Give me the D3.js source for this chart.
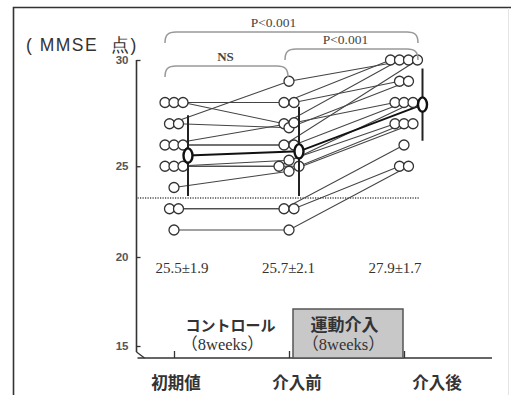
<!DOCTYPE html>
<html>
<head>
<meta charset="utf-8">
<script src="https://cdn.jsdelivr.net/npm/d3@7"></script>
<style>
  html, body { margin: 0; padding: 0; background: #fff; }
  svg { display: block; }
</style>
</head>
<body>
<svg id="chart" width="511" height="395"></svg>
<script>
// Time points
const categories = ["初期値", "介入前", "介入後"];

// MMSE score of each subject at each time point (same subject order in every array)
const initialScores = [28, 28, 28, 27, 27, 26, 26, 26, 25, 25, 25, 24, 23, 23, 22];
const preScores     = [28, 28, 27, 29, 27, 27, 26, 26, 25, 25, 25, 25, 23, 23, 22];
const postScores    = [30, 29, 30, 30, 29, 28, 30, 28, 28, 27, 27, 27, 26, 25, 25];

// Group mean and SD
const means = [25.5, 25.7, 27.9];
const sds   = [1.9, 2.1, 1.7];

// Axis ticks and cut-off score
const yTicks = [15, 20, 25, 30];
const cutoff = 23.5;

// Pairwise comparisons shown as brackets (outermost first)
const compFrom   = [0, 1, 0];
const compTo     = [2, 2, 1];
const compLabels = ["P<0.001", "P<0.001", "NS"];

// Period captions
const periodTitles = ["コントロール", "運動介入"];
const periodSub    = ["（8weeks）", "（8weeks）"];

const svg = d3.select("#chart");
const W = 511, H = 395;

svg.append("rect").attr("width", W).attr("height", H).attr("fill", "#fff");

// outer frame
svg.append("path")
  .attr("d", `M13.5,${H} L13.5,7.5 L${W},7.5`)
  .attr("fill", "none").attr("stroke", "#333").attr("stroke-width", 1.6);
svg.append("line")
  .attr("x1", 508.5).attr("x2", 508.5).attr("y1", 8).attr("y2", H)
  .attr("stroke", "#e4e4e4").attr("stroke-width", 1);

// scales: the value axis is broken below 21.5 (compressed to the 15 baseline)
const x = d3.scalePoint().domain(categories).range([174, 404]);
const y = d3.scaleLinear().domain([15, 20, 21.5, 30]).range([346, 257, 240.6, 60]);
const axisX = 136.5;
const baseY = 358;

const serif = "'Liberation Serif', 'Times New Roman', 'Noto Sans CJK JP', serif";
const sans = "'Liberation Sans', Arial, sans-serif";
const jp = "'Noto Sans CJK JP', 'Noto Sans', sans-serif";

// y axis
const yAxis = svg.append("g")
  .attr("transform", `translate(${axisX},0)`)
  .call(d3.axisLeft(y).tickValues(yTicks).tickSize(-4).tickSizeOuter(0).tickPadding(8));
yAxis.select(".domain").remove();
yAxis.selectAll(".tick line").attr("stroke", "#333").attr("stroke-width", 1.3);
yAxis.selectAll(".tick text")
  .attr("font-family", sans).attr("font-size", 11.5).attr("font-weight", 700)
  .attr("fill", "#555");
svg.append("line")
  .attr("x1", axisX).attr("x2", axisX).attr("y1", y(30)).attr("y2", y(15) + 6)
  .attr("stroke", "#333").attr("stroke-width", 1.6);
// axis break mark
svg.append("line")
  .attr("x1", axisX).attr("y1", y(15) + 6).attr("x2", axisX + 8).attr("y2", baseY)
  .attr("stroke", "#333").attr("stroke-width", 1.3);

// x axis
svg.append("line")
  .attr("x1", axisX + 1).attr("x2", 492).attr("y1", baseY).attr("y2", baseY)
  .attr("stroke", "#333").attr("stroke-width", 1.6);
const xAxis = svg.append("g")
  .attr("transform", `translate(0,${baseY})`)
  .call(d3.axisBottom(x).tickSize(-7).tickSizeOuter(0).tickFormat(""));
xAxis.select(".domain").remove();
xAxis.selectAll(".tick line").attr("stroke", "#333").attr("stroke-width", 1.3);

// category labels under the axis
const xLabel = d3.scaleOrdinal().domain(categories).range([176, 297, 437]);
svg.append("g").selectAll("text").data(categories).join("text")
  .attr("x", d => xLabel(d)).attr("y", 389)
  .attr("text-anchor", "middle")
  .attr("font-family", jp).attr("font-size", 16.5).attr("font-weight", 700)
  .attr("fill", "#333")
  .text(d => d);

// unit label
svg.append("text")
  .attr("x", 26).attr("y", 51)
  .attr("font-family", sans).attr("font-size", 17.5).attr("fill", "#333")
  .style("white-space", "pre").attr("letter-spacing", 1.5)
  .text("( MMSE  点)");

// exercise period box between the 2nd and 3rd time points
const boxTop = 309;
svg.append("rect")
  .attr("x", x(categories[1]) + 4).attr("y", boxTop)
  .attr("width", x(categories[2]) - x(categories[1]) - 5).attr("height", baseY - boxTop)
  .attr("fill", "#c8c8c8").attr("stroke", "#555").attr("stroke-width", 1.5);

periodTitles.forEach((t, i) => {
  const cx = (x(categories[i]) + x(categories[i + 1])) / 2;
  svg.append("text")
    .attr("x", cx - (i === 0 ? 1 : 2)).attr("y", 331)
    .attr("text-anchor", "middle")
    .attr("font-family", jp).attr("font-size", i === 0 ? 15 : 17).attr("font-weight", 700)
    .attr("fill", "#333").text(t);
  svg.append("text")
    .attr("x", cx - (i === 0 ? 9 : 3)).attr("y", 350)
    .attr("text-anchor", "middle")
    .attr("font-family", serif).attr("font-size", 16.5)
    .attr("fill", "#333").text(periodSub[i]);
});

// cut-off line
svg.append("line")
  .attr("x1", axisX + 1).attr("x2", x(categories[2]) + 16)
  .attr("y1", y(cutoff)).attr("y2", y(cutoff))
  .attr("stroke", "#777").attr("stroke-width", 2).attr("stroke-dasharray", "1.2,1.3");

// individual circle positions: side-by-side for tied scores
const step = 9;
const compactSlots = {
  1: [[0, 0]],
  2: [[-5, 0], [5, 0]],
  3: [[-5, 0], [0, 4], [5, -1]],
  4: [[-10, 0], [0, -6], [10, 0], [0, 5]]
};
function layoutGroup(values, gi) {
  const pos = [];
  const byScore = d3.group(values.map((v, i) => ({ v, i })), d => d.v);
  for (const [v, members] of byScore) {
    const n = members.length;
    members.forEach((m, k) => {
      let dx, dy = 0;
      if (gi === 1) { [dx, dy] = compactSlots[n][k]; }
      else { dx = (k - (n - 1) / 2) * step; }
      pos[m.i] = { x: x(categories[gi]) + dx, y: y(v) + dy };
    });
  }
  return pos;
}
const groups = [initialScores, preScores, postScores];
const positions = groups.map((vals, gi) => layoutGroup(vals, gi));

// where the mean/SD marker sits: just right of the widest row
const meanX = groups.map((vals, gi) => {
  if (gi === 1) return x(categories[gi]) + 10;
  const maxN = d3.max(d3.rollups(vals, v => v.length, d => d).map(d => d[1]));
  return x(categories[gi]) + (maxN - 1) / 2 * step + 5;
});

// subject lines
const lineG = svg.append("g");
initialScores.forEach((_, i) => {
  lineG.append("path")
    .attr("d", d3.line()(positions.map(p => [p[i].x, p[i].y])))
    .attr("fill", "none").attr("stroke", "#444").attr("stroke-width", 1.1);
});

// mean line
svg.append("path")
  .attr("d", d3.line()(means.map((m, gi) => [meanX[gi], y(m)])))
  .attr("fill", "none").attr("stroke", "#111").attr("stroke-width", 2);

// circles
const circles = positions.flatMap(p => p).sort((a, b) => a.x - b.x);
svg.append("g").selectAll("circle").data(circles).join("circle")
  .attr("cx", d => d.x).attr("cy", d => d.y).attr("r", 5)
  .attr("fill", "#fff").attr("stroke", "#333").attr("stroke-width", 1.3);

// SD bars and mean markers
means.forEach((m, gi) => {
  svg.append("line")
    .attr("x1", meanX[gi]).attr("x2", meanX[gi])
    .attr("y1", y(m + sds[gi])).attr("y2", y(m - sds[gi]))
    .attr("stroke", "#222").attr("stroke-width", 2);
  svg.append("ellipse")
    .attr("cx", meanX[gi]).attr("cy", y(m)).attr("rx", 4.5).attr("ry", 7.2)
    .attr("fill", "#fff").attr("stroke", "#111").attr("stroke-width", 2.4);
});

// mean ± SD captions
const statX = d3.scalePoint().domain(categories).range([182, 395]);
svg.append("g").selectAll("text").data(categories).join("text")
  .attr("x", d => statX(d)).attr("y", 273)
  .attr("text-anchor", "middle")
  .attr("font-family", serif).attr("font-size", 15).attr("fill", "#333")
  .text((d, i) => `${means[i].toFixed(1)}±${sds[i].toFixed(1)}`);

// comparison brackets
compLabels.forEach((label, k) => {
  const x0 = x(categories[compFrom[k]]) - (compFrom[k] === 0 ? 9 : 4);
  const x1 = x(categories[compTo[k]]) + (compTo[k] === 2 ? 14 : -1);
  const top = 32 + k * 17;
  const r = 11;
  const d = `M${x0},${top + r} C${x0},${top + 3} ${x0 + 3},${top} ${x0 + r},${top}` +
            ` L${x1 - r},${top} C${x1 - 3},${top} ${x1},${top + 3} ${x1},${top + r}`;
  svg.append("path").attr("d", d)
    .attr("fill", "none").attr("stroke", "#999").attr("stroke-width", 1.5);
  const lx = (x0 + x1) / 2 + (k === 0 ? -18 : (k === 1 ? -6 : -1));
  svg.append("text")
    .attr("x", lx).attr("y", top - 5)
    .attr("text-anchor", "middle")
    .attr("font-family", serif).attr("font-size", label === "NS" ? 13 : 13.5)
    .attr("font-weight", label === "NS" ? 700 : 400)
    .attr("fill", "#444").text(label);
});
</script>
</body>
</html>
